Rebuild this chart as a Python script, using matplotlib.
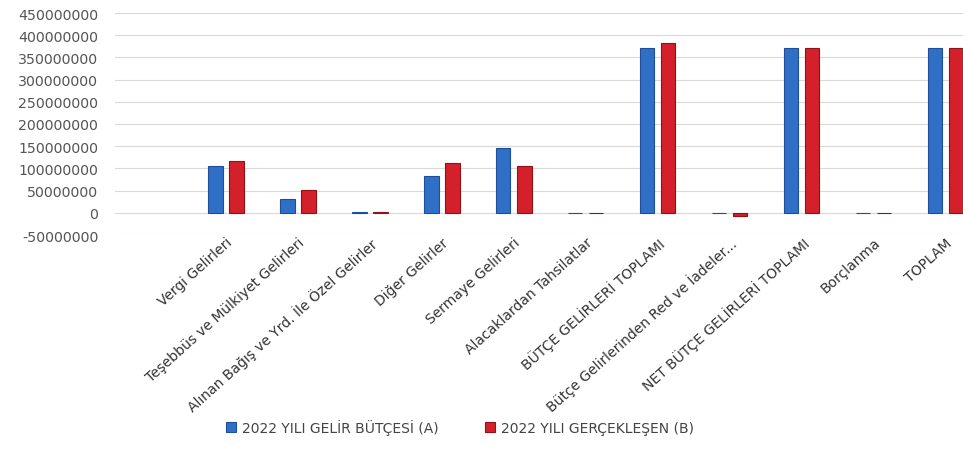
import matplotlib.pyplot as plt
import numpy as np

plt.rcParams['font.family'] = ['DejaVu Sans']

categories = [
    "Vergi Gelirleri",
    "Teşebbüs ve Mülkiyet Gelirleri",
    "Alınan Bağış ve Yrd. İle Özel Gelirler",
    "Diğer Gelirler",
    "Sermaye Gelirleri",
    "Alacaklardan Tahsilatlar",
    "BÜTÇE GELİRLERİ TOPLAMI",
    "Bütçe Gelirlerinden Red ve İadeler...",
    "NET BÜTÇE GELİRLERİ TOPLAMI",
    "Borçlanma",
    "TOPLAM",
]

butce_2022 = [106000000, 31500000, 1500000, 83000000, 146000000, 0,
              371000000, 0, 371000000, 0, 372000000]
gerceklesen_2022 = [117000000, 52000000, 2500000, 113000000, 106000000, 500000,
                    382000000, -8000000, 371000000, 0, 371000000]

yticks = list(range(-50000000, 450000001, 50000000))

fig = plt.figure(figsize=(9.63, 4.56), dpi=100)
ax = fig.add_axes([115 / 963, 1 - 236 / 456, (963 - 115) / 963, 222 / 456])

x = np.arange(len(categories))
w = 0.2
off = 0.146
ax.bar(x - off, butce_2022, w, color="#2f6fc6", edgecolor="#1d4e9a", linewidth=0.8,
       label="2022 YILI GELİR BÜTÇESİ (A)", zorder=3)
ax.bar(x + off, gerceklesen_2022, w, color="#d4202a", edgecolor="#8e1218", linewidth=0.8,
       label="2022 YILI GERÇEKLEŞEN (B)", zorder=3)

ax.set_xlim(-1.54, 10.24)
ax.set_ylim(-50000000, 450000000)
ax.set_yticks(yticks)
ax.set_yticklabels([str(v) for v in yticks], fontsize=10.2, color="#555555")
ax.set_xticks(x)
ax.set_xticklabels(categories, rotation=42, ha="right", rotation_mode="anchor",
                   fontsize=10, color="#333333")
ax.tick_params(axis="y", length=0, pad=12)
ax.tick_params(axis="x", length=0, pad=0)
ax.yaxis.grid(True, color="#d9d9d9", linewidth=0.8, zorder=0)
for s in ax.spines.values():
    s.set_visible(False)

fig.legend(loc="center", bbox_to_anchor=(460 / 963, 1 - 428 / 456), ncol=2,
           frameon=False, fontsize=10, handlelength=0.7, handleheight=0.7,
           columnspacing=3.4, handletextpad=0.4, labelcolor="#444444")

fig.savefig("out.png", dpi=100)
